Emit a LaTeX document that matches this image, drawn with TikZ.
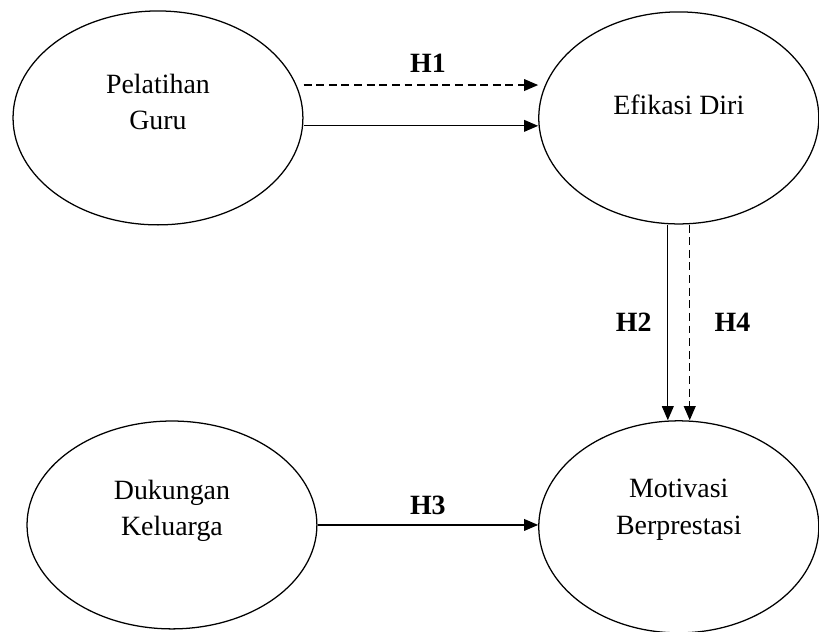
\documentclass[tikz,border=0pt]{standalone}
\usepackage{fontspec}
\setmainfont{Liberation Serif}
\usetikzlibrary{arrows.meta,shapes.geometric}
\tikzset{
  varnode/.style={draw, ellipse, line width=0.95pt, align=center, inner sep=0pt,
    font=\fontsize{21}{27.5}\selectfont},
  patharr/.style={-{Triangle[length=3.7mm,width=3.1mm]}, line width=0.95pt},
  patharrdash/.style={patharr, dash pattern=on 6pt off 3.5pt},
  hyplbl/.style={font=\fontsize{21}{25}\selectfont\bfseries},
}

\begin{document}
\begin{tikzpicture}
  \useasboundingbox (0,0) rectangle (21.67,-16.72);
  % variables
  \node[varnode, minimum width=7.67cm, minimum height=5.66cm, text depth=24pt] (pg) at (4.18,-3.12) {Pelatihan\\Guru};
  \node[varnode, minimum width=7.41cm, minimum height=5.61cm, text depth=20pt] (ed) at (17.96,-3.12) {Efikasi Diri};
  \node[varnode, minimum width=7.67cm, minimum height=5.50cm, text depth=26pt] (dk) at (4.55,-13.89) {Dukungan\\Keluarga};
  \node[varnode, minimum width=7.41cm, minimum height=5.61cm, text depth=30pt] (mb) at (17.96,-13.94) {Motivasi\\Berprestasi};
  % hypotheses
  \draw[patharrdash] ([yshift=0.87cm]pg.east) -- node[hyplbl, above=6pt, pos=0.53] (h1) {H1} ([yshift=0.87cm]ed.west);
  \draw[patharr] ([yshift=-0.21cm]pg.east) -- ([yshift=-0.21cm]ed.west);
  \draw[patharr] ([xshift=-0.29cm]ed.south) -- node[hyplbl, left=8.5pt] (h2) {H2} ([xshift=-0.29cm]mb.north);
  \draw[patharrdash] ([xshift=0.29cm]ed.south) -- node[hyplbl, right=15pt] (h4) {H4} ([xshift=0.29cm]mb.north);
  \draw[patharr] (dk.east) -- node[hyplbl, above=4pt] (h3) {H3} (dk.east -| mb.west);
\end{tikzpicture}
\end{document}
